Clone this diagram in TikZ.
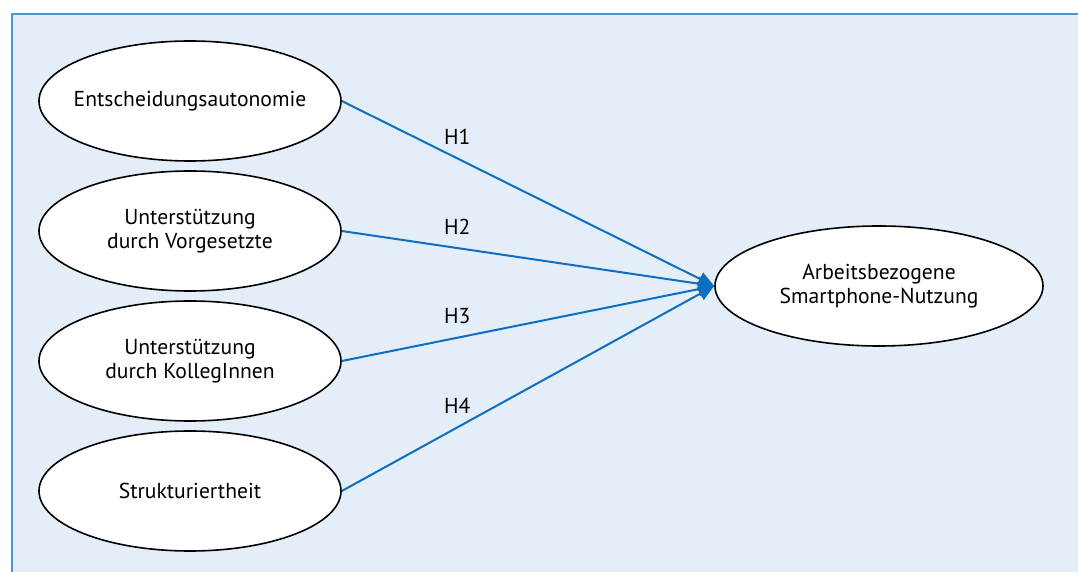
\documentclass[tikz,border=0pt]{standalone}
\usepackage{fontspec}
\setmainfont{PT Sans}
\usepackage{tikz}
\usetikzlibrary{shapes.geometric,arrows.meta,calc,positioning}
\definecolor{framblue}{RGB}{74,152,212}
\definecolor{backblue}{RGB}{228,238,248}
\definecolor{pathblue}{RGB}{16,110,190}

\begin{document}
\begin{tikzpicture}[x=0.5pt,y=-0.5pt,
    factor/.style={ellipse,draw=black,thick,fill=white,minimum width=151pt,minimum height=60pt,
      inner xsep=-8pt,inner ysep=0pt,align=center,font=\fontsize{10.8}{12}\selectfont},
    hypo/.style={draw=pathblue,line width=1pt,-{Triangle[length=8pt,width=7pt]}},
    hlabel/.style={font=\fontsize{10.8}{12}\selectfont,above=3pt,pos=0.31}]
      \useasboundingbox (0,0) rectangle (1078,572);
      % Background frame
      \fill[backblue] (12,14) rectangle (1078,572);
      \draw[framblue,line width=1.2pt] (12,572) -- (12,14) -- (1078,14);
      % Predictors
      \node[factor] (auto) at (190,101) {Entscheidungsautonomie};
      \node[factor] (vorg) at (190,231) {Unterstützung\\durch Vorgesetzte};
      \node[factor] (koll) at (190,361) {Unterstützung\\durch KollegInnen};
      \node[factor] (strk) at (190,491) {Strukturiertheit};
      % Outcome
      \node[factor,minimum width=164pt] (nutz) at (879,286) {Arbeitsbezogene\\Smartphone-Nutzung};
      % Hypotheses
      \draw[hypo] (auto.east) -- (nutz.west) node[hlabel] {H1};
      \draw[hypo] (vorg.east) -- (nutz.west) node[hlabel] {H2};
      \draw[hypo] (koll.east) -- (nutz.west) node[hlabel] {H3};
      \draw[hypo] (strk.east) -- (nutz.west) node[hlabel] {H4};
    \end{tikzpicture}
\end{document}
